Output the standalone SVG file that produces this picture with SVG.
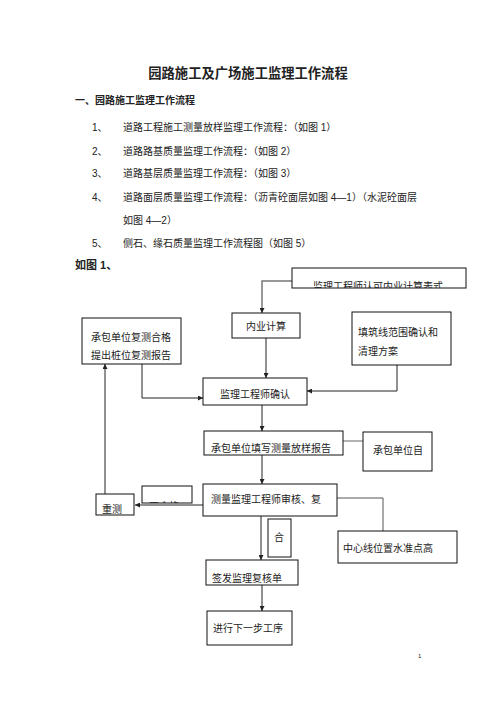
<svg xmlns="http://www.w3.org/2000/svg" width="496" height="702" viewBox="0 0 496 702">
<style>
text{font-family:"Liberation Sans","Noto Sans CJK SC",sans-serif;fill:#222;font-size:10px}
.t{font-size:13.3px;font-weight:bold}
.h{font-size:10px;font-weight:bold}
.h2{font-size:11px;font-weight:bold}
.pg{font-size:6px}
.box{fill:#fff;stroke:#111;stroke-width:1}
.ln{fill:none;stroke:#222;stroke-width:1}
</style>
<defs>
<marker id="ar" viewBox="0 0 8 8" refX="8" refY="4" markerWidth="5" markerHeight="5" orient="auto" markerUnits="userSpaceOnUse">
<path d="M0,0 L8,4 L0,8 z" fill="#222"/>
</marker>
<clipPath id="c1"><rect x="292" y="268" width="174" height="20"/></clipPath>
<clipPath id="c2"><rect x="142" y="486" width="50" height="17"/></clipPath>
<clipPath id="c3"><rect x="268" y="519" width="23" height="38"/></clipPath>
<clipPath id="c4"><rect x="96" y="503" width="38" height="12"/></clipPath>
</defs>
<rect width="496" height="702" fill="#fff"/>
<g id="header">
<text class="t" x="248" y="78" text-anchor="middle">园路施工及广场施工监理工作流程</text>
<text class="h" x="75" y="104">一、园路施工监理工作流程</text>
<text x="92" y="131">1、</text><text x="123" y="131">道路工程施工测量放样监理工作流程：（如图 1）</text>
<text x="92" y="155">2、</text><text x="123" y="155">道路路基质量监理工作流程：（如图 2）</text>
<text x="92" y="177">3、</text><text x="123" y="177">道路基层质量监理工作流程：（如图 3）</text>
<text x="92" y="201">4、</text><text x="123" y="201">道路面层质量监理工作流程：（沥青砼面层如图  4—1）（水泥砼面层</text>
<text x="123" y="224">如图 4—2）</text>
<text x="92" y="247">5、</text><text x="123" y="247">侧石、缘石质量监理工作流程图（如图 5）</text>
<text class="h2" x="75" y="269">如图 1、</text>
</g>
<g id="connectors">
<path d="M292,281 H262 V313" class="ln" style="stroke:#777;stroke-width:1.5" marker-end="url(#ar)"/>
<path d="M266,338 V378" class="ln" marker-end="url(#ar)"/>
<path d="M142,364 V398 H203" class="ln" marker-end="url(#ar)"/>
<path d="M397,365 V391 H307" class="ln" marker-end="url(#ar)"/>
<path d="M105,494 V364" class="ln" marker-end="url(#ar)"/>
<path d="M262,405 V431" class="ln" marker-end="url(#ar)"/>
<path d="M343,441 H363" class="ln" style="stroke:#666"/>
<path d="M262,455 V484" class="ln" marker-end="url(#ar)"/>
<path d="M203,505 H135" class="ln" marker-end="url(#ar)"/>
<path d="M337,498 H383 V531" class="ln" style="stroke:#555"/>
<path d="M261,516 V560" class="ln" marker-end="url(#ar)"/>
<path d="M262,585 V611" class="ln" marker-end="url(#ar)"/>
</g>
<g id="n-top"><rect class="box" x="292" y="268" width="174" height="20"/><text x="313" y="290" clip-path="url(#c1)">监理工程师认可内业计算表式</text></g>
<g id="n-calc"><rect class="box" x="232" y="313" width="68" height="25"/><text x="266" y="330" text-anchor="middle">内业计算</text></g>
<g id="n-recheck"><rect class="box" x="82" y="318" width="99" height="46"/><text x="91" y="341">承包单位复测合格</text><text x="91" y="359">提出桩位复测报告</text></g>
<g id="n-fill"><rect class="box" x="352" y="312" width="99" height="53"/><text x="358" y="336">填筑线范围确认和</text><text x="358" y="355">清理方案</text></g>
<g id="n-confirm"><rect class="box" x="203" y="378" width="104" height="27"/><text x="255" y="398" text-anchor="middle">监理工程师确认</text></g>
<g id="n-report"><rect class="box" x="204" y="431" width="139" height="24"/><text x="211" y="452">承包单位填写测量放样报告</text></g>
<g id="n-self"><rect class="box" x="363" y="432" width="69" height="39"/><text x="373" y="454">承包单位自</text></g>
<g id="n-review"><rect class="box" x="203" y="484" width="134" height="32"/><text x="211" y="503">测量监理工程师审核、复</text></g>
<g id="n-fail"><rect class="box" x="142" y="486" width="50" height="17"/><text x="149" y="510" clip-path="url(#c2)">不合格</text></g>
<g id="n-redo"><rect class="box" x="96" y="494" width="38" height="21"/><text x="102" y="513" clip-path="url(#c4)">重测</text></g>
<g id="n-pass"><rect class="box" x="268" y="519" width="23" height="38"/><text x="274" y="541" clip-path="url(#c3)">合</text></g>
<g id="n-center"><rect class="box" x="338" y="531" width="119" height="32"/><text x="343" y="552">中心线位置水准点高</text></g>
<g id="n-sign"><rect class="box" x="206" y="560" width="92" height="25"/><text x="212" y="582">签发监理复核单</text></g>
<g id="n-next"><rect class="box" x="207" y="611" width="85" height="34"/><text x="213" y="632">进行下一步工序</text></g>
<text class="pg" x="418" y="658">1</text>
</svg>
